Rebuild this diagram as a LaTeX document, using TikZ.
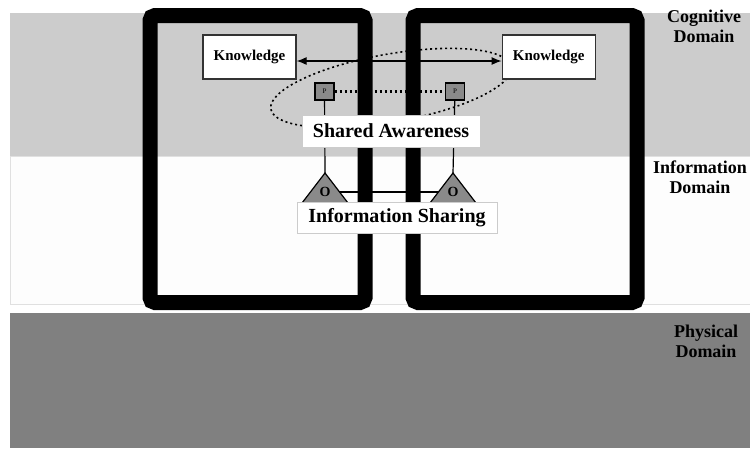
\documentclass[tikz,border=0pt]{standalone}
\usepackage{fontspec}
\setmainfont{Liberation Serif}
\usetikzlibrary{arrows.meta,positioning}
\pgfdeclarelayer{back}
\pgfdeclarelayer{front}
\pgfsetlayers{back,main,front}
\definecolor{cogband}{HTML}{CCCCCC}
\definecolor{infoband}{HTML}{FDFDFD}
\definecolor{physband}{HTML}{808080}
\definecolor{nodegray}{HTML}{8A8A8A}

\begin{document}
\begin{tikzpicture}[x=1pt,y=-1pt,>={Latex[length=10pt,width=8pt]},node distance=205pt]
            \tikzstyle{knowledge}=[draw=black!80,line width=1.2pt,fill=white,minimum width=93pt,minimum height=44pt,inner sep=0pt,font=\fontsize{15}{15}\selectfont\bfseries]
            \tikzstyle{pbox}=[draw,line width=1.5pt,fill=nodegray,minimum width=19pt,minimum height=17pt,inner sep=0pt,font=\fontsize{7}{7}\selectfont]
            \tikzstyle{station}=[draw,line width=1.2pt,fill=nodegray,line join=miter]
            \tikzstyle{stationlabel}=[inner sep=1pt,font=\fontsize{14}{14}\selectfont\bfseries]
            \tikzstyle{banner}=[draw=black!20,line width=0.6pt,fill=white,inner sep=0pt,font=\fontsize{20}{20}\selectfont\bfseries]
            \tikzstyle{domainlabel}=[align=center,font=\fontsize{18}{20}\selectfont\bfseries]
            \tikzstyle{member}=[line width=15pt,rounded corners=5pt]

            \useasboundingbox (0,0) rectangle (750,448);

            \node[knowledge] (kl) at (249.5,57) {Knowledge};
            \node[knowledge] (kr) [right=of kl] {Knowledge};
            \node[pbox]      (pl) at (324.5,91.5) {P};
            \node[pbox]      (pr) [right=110pt of pl] {P};

            \coordinate (al) at (325,173);
            \coordinate (ar) at (453,173);
            \draw[station] (al) -- (348,203) -- (302,203) -- cycle;
            \draw[station] (ar) -- (476,203) -- (430,203) -- cycle;
            \node[stationlabel] (ol) at (325,192) {O};
            \node[stationlabel] (or) at (453,192) {O};

            \draw[member] (150,15.5) rectangle (365,302.5);
            \draw[member] (413,15.5) rectangle (637,302.5);

            \begin{pgfonlayer}{back}
                \fill[cogband]  (10,13)  rectangle (750,156);
                \filldraw[fill=infoband,draw=black!12,line width=0.8pt] (10,156) rectangle (750,304);
                \fill[physband] (10,313) rectangle (750,448);

                \draw[line width=1.6pt,dash pattern=on 2pt off 3pt]
                    (391,88) ellipse [x radius=122pt,y radius=34pt,rotate=10];

                \path[line width=1.2pt]
                    ([yshift=-4pt]kl.east) edge [<->] ([yshift=-4pt]kr.west)
                    (pl) edge [line width=3pt,dash pattern=on 2.5pt off 2.5pt] (pr)
                    (pl) edge (al)
                    (pr) edge (ar)
                    (ol) edge (or)
                ;
            \end{pgfonlayer}

            \begin{pgfonlayer}{front}
                \node[banner,minimum width=178pt,minimum height=32pt] (sa) at (391,131) {Shared Awareness};
                \node[banner,minimum width=200pt,minimum height=31pt] (is) at (397,217.5) {Information Sharing};
            \end{pgfonlayer}

            \node[domainlabel] (cd) at (704,26)  {Cognitive\\Domain};
            \node[domainlabel] (id) at (700,177) {Information\\Domain};
            \node[domainlabel] (pd) at (706,341) {Physical\\Domain};
        \end{tikzpicture}
\end{document}
